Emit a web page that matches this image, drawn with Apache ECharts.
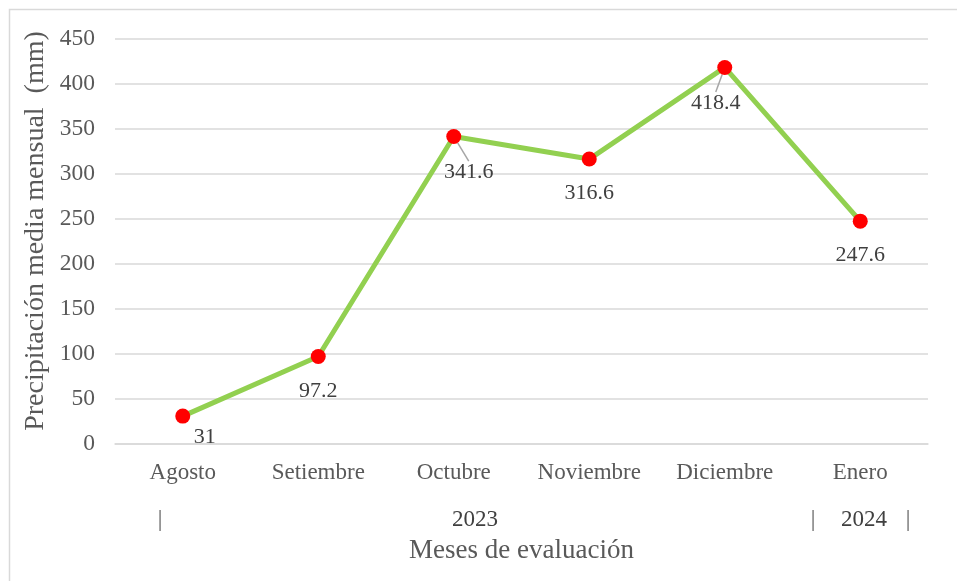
<!DOCTYPE html>
<html>
<head>
<meta charset="utf-8">
<script src="https://cdn.jsdelivr.net/npm/echarts@6/dist/echarts.min.js"></script>
<style>html,body{margin:0;padding:0;background:#fff;}#c{width:957px;height:581px;}</style>
</head>
<body>
<div id="c"></div>
<script>
const months = ['Agosto', 'Setiembre', 'Octubre', 'Noviembre', 'Diciembre', 'Enero'];
const precipitation = [31, 97.2, 341.6, 316.6, 418.4, 247.6];
const yearLabels = ['|', '2023', '|', '2024', '|'];
const yTicks = { min: 0, max: 450, interval: 50 };
const yTitle = 'Precipitación media mensual  (mm)';

const labelShift = [[22, -13], [0, 0], [15, 1], [0, 0], [-9, 1], [0, 0]];
const leader = [false, false, true, false, true, false];

const chart = echarts.init(document.getElementById('c'));
const font = '"Liberation Serif", "Times New Roman", serif';
const yearX = [160, 475, 813, 864, 908];

chart.setOption({
  backgroundColor: '#fff',
  animation: false,
  textStyle: { fontFamily: font },
  grid: { left: 115, right: 29, top: 39, bottom: 137 },
  xAxis: {
    type: 'category',
    data: months,
    boundaryGap: true,
    axisLine: { show: true, lineStyle: { color: '#d9d9d9', width: 1.5 } },
    axisTick: { show: false },
    axisLabel: { color: '#595959', fontSize: 23, margin: 17, fontFamily: font, interval: 0, hideOverlap: false },
    name: 'Meses de evaluación',
    nameLocation: 'middle',
    nameGap: 93,
    nameTextStyle: { color: '#595959', fontSize: 27, fontFamily: font }
  },
  yAxis: {
    type: 'value',
    min: yTicks.min, max: yTicks.max, interval: yTicks.interval,
    axisLine: { show: false },
    axisTick: { show: false },
    axisLabel: { color: '#595959', fontSize: 23.5, margin: 20, fontFamily: font },
    splitLine: { lineStyle: { color: '#d9d9d9', width: 1.5 } }
  },
  series: [{
    type: 'line',
    data: precipitation.map(function (v, i) {
      return { value: v, labelLine: { show: leader[i] } };
    }),
    symbol: 'circle',
    symbolSize: 15,
    itemStyle: { color: '#ff0000' },
    lineStyle: { color: '#92d050', width: 5 },
    label: {
      show: true,
      position: 'bottom',
      distance: 16,
      color: '#404040',
      fontSize: 22,
      fontFamily: font
    },
    labelLine: { lineStyle: { color: '#a6a6a6', width: 1.5 } },
    labelLayout: function (p) {
      const s = labelShift[p.dataIndex];
      return { dx: s[0], dy: s[1] };
    },
    z: 3
  }],
  graphic: [
    {
      type: 'rect',
      shape: { x: 9.5, y: 9.5, width: 980, height: 600 },
      style: { fill: 'none', stroke: '#d9d9d9', lineWidth: 1.5 },
      silent: true
    },
    {
      type: 'text',
      x: 36, y: 231,
      rotation: Math.PI / 2,
      style: {
        text: yTitle,
        fill: '#595959',
        font: '28px ' + font,
        textAlign: 'center',
        textVerticalAlign: 'middle'
      }
    }
  ].concat(yearLabels.map(function (t, i) {
    return {
      type: 'text',
      x: yearX[i], y: 520,
      style: {
        text: t,
        fill: t === '|' ? '#595959' : '#404040',
        font: '23px ' + font,
        textAlign: 'center',
        textVerticalAlign: 'middle'
      }
    };
  }))
});
</script>
</body>
</html>
